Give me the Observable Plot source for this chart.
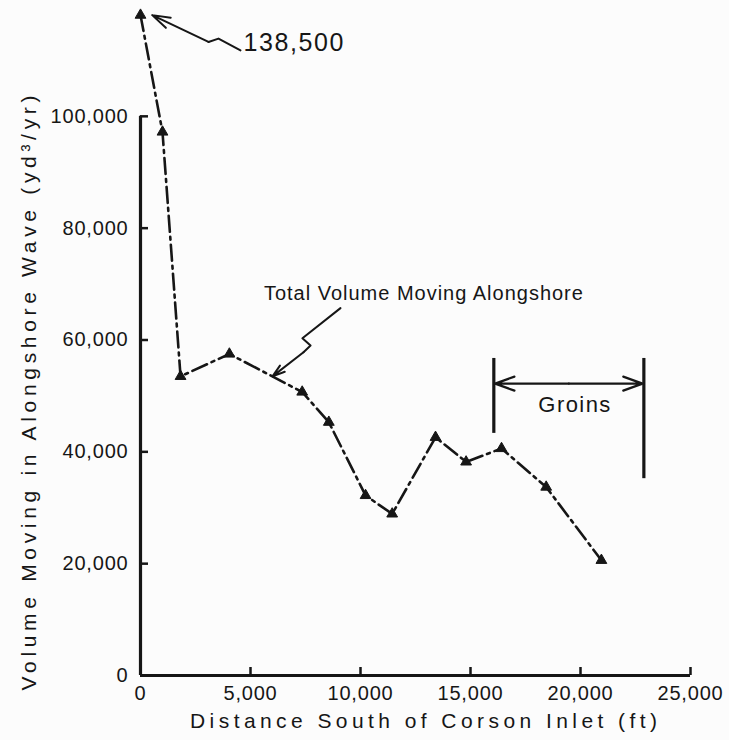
<!DOCTYPE html>
<html>
<head>
<meta charset="utf-8">
<script src="https://cdn.jsdelivr.net/npm/d3@7"></script>
<script src="https://cdn.jsdelivr.net/npm/@observablehq/plot@0.6"></script>
<style>
  html, body { margin: 0; padding: 0; background: #fcfcfc; }
  #chart svg { display: block; }
  g[aria-label="x-axis tick label"] text,
  g[aria-label="y-axis tick label"] text { letter-spacing: 0.8px; }
</style>
</head>
<body>
<div id="chart"></div>
<script>
// ---- data ----
const distanceFt = [0, 1000, 1820, 4040, 7350, 8560, 10230, 11440, 13410, 14800, 16410, 18440, 20950];
const volumeYd3  = [138500, 97200, 53500, 57500, 50700, 45300, 32200, 28900, 42600, 38200, 40600, 33700, 20600];
const offScaleCap = 118100;          // values above this are drawn at the top edge (off-scale)

const xTicks = [0, 5000, 10000, 15000, 20000, 25000];
const xTickLabels = ["0", "5,000", "10,000", "15,000", "20,000", "25,000"];
const yTicks = [0, 20000, 40000, 60000, 80000, 100000];
const yTickLabels = ["0", "20,000", "40,000", "60,000", "80,000", "100,000"];

const xTitle = "Distance South of Corson Inlet (ft)";
const yTitle = "Volume Moving in Alongshore Wave (yd\u00B3/yr)";
const seriesLabel = "Total Volume Moving Alongshore";
const offScaleLabel = "138,500";
const groinsLabel = "Groins";

// groin field extent (ft)
const groinsFromFt = 16060;
const groinsToFt = 22880;

// annotation anchors (data units)
const seriesLabelAt = [12860, 68300];
const seriesLeaderX = [9090, 7360, 7730, 7410];
const seriesLeaderY = [65700, 60300, 59000, 57800];
const seriesLeaderTip = [6000, 53500];

const offScaleLabelAt = [4680, 113100];
const offScaleLeaderX = [4545, 3545, 3090];
const offScaleLeaderY = [111800, 113900, 113300];
const offScaleLeaderTip = [532, 118100];

const groinsLabelAt = [19720, 48300];
const groinsLeftSpan = [43300, 56700];
const groinsRightSpan = [35200, 56700];
const groinsArrowY = 52200;

// ---- build tables ----
const pts = distanceFt.map((x, i) => ({x, v: volumeYd3[i]}));
const seriesLeader = seriesLeaderX.map((x, i) => ({x, y: seriesLeaderY[i]}));
const offLeader = offScaleLeaderX.map((x, i) => ({x, y: offScaleLeaderY[i]}));
const ink = "#161616";
const groinsMid = (groinsFromFt + groinsToFt) / 2;

const chart = Plot.plot({
  width: 729,
  height: 740,
  marginLeft: 140,
  marginRight: 39,
  marginTop: 4,
  marginBottom: 65,
  x: {domain: [xTicks[0], xTicks[xTicks.length - 1]]},
  y: {domain: [0, 120000]},
  style: {background: "#fcfcfc", color: ink, fontFamily: "'Liberation Sans', Arial, sans-serif"},
  marks: [
    Plot.axisX({
      ticks: xTicks,
      tickFormat: (d) => xTickLabels[xTicks.indexOf(d)],
      tickSize: -8, tickPadding: 18, strokeWidth: 2.5,
      fontSize: 20, label: null
    }),
    Plot.axisY({
      ticks: yTicks,
      tickFormat: (d) => yTickLabels[yTicks.indexOf(d)],
      tickSize: -8, tickPadding: 20, strokeWidth: 2.5,
      fontSize: 20, label: null
    }),
    // axis lines
    Plot.ruleY([yTicks[0]], {x1: xTicks[0], x2: xTicks[xTicks.length - 1], stroke: ink, strokeWidth: 3.2}),
    Plot.ruleX([xTicks[0]], {y1: yTicks[0], y2: yTicks[yTicks.length - 1], stroke: ink, strokeWidth: 3.2}),
    // data line (dash-dot)
    Plot.line(pts, {
      x: "x", y: (d) => Math.min(d.v, offScaleCap),
      stroke: ink, strokeWidth: 2.6, strokeDasharray: "16,5,3,5", strokeLinejoin: "round"
    }),
    Plot.dot(pts, {
      x: "x", y: (d) => Math.min(d.v, offScaleCap),
      symbol: "triangle", r: 4, fill: ink, stroke: ink, strokeWidth: 1
    }),
    // groins bracket
    Plot.ruleX([groinsFromFt], {y1: groinsLeftSpan[0], y2: groinsLeftSpan[1], stroke: ink, strokeWidth: 3.2}),
    Plot.ruleX([groinsToFt], {y1: groinsRightSpan[0], y2: groinsRightSpan[1], stroke: ink, strokeWidth: 3.2}),
    Plot.arrow([
      {x1: groinsMid, x2: groinsFromFt + 60},
      {x1: groinsMid, x2: groinsToFt - 60}
    ], {x1: "x1", x2: "x2", y1: () => groinsArrowY, y2: () => groinsArrowY,
        stroke: ink, strokeWidth: 2.2, headLength: 14, headAngle: 40}),
    Plot.text([groinsLabel], {x: () => groinsLabelAt[0], y: () => groinsLabelAt[1], text: (d) => d,
        fontSize: 22, fill: ink}),
    // series label + leader
    Plot.text([seriesLabel], {x: () => seriesLabelAt[0], y: () => seriesLabelAt[1], text: (d) => d,
        fontSize: 20, fill: ink}),
    Plot.line(seriesLeader, {x: "x", y: "y", stroke: ink, strokeWidth: 2}),
    Plot.arrow([0], {
      x1: () => seriesLeaderX[seriesLeaderX.length - 1], y1: () => seriesLeaderY[seriesLeaderY.length - 1],
      x2: () => seriesLeaderTip[0], y2: () => seriesLeaderTip[1],
      stroke: ink, strokeWidth: 2, headLength: 14, headAngle: 35
    }),
    // off-scale label + leader
    Plot.text([offScaleLabel], {x: () => offScaleLabelAt[0], y: () => offScaleLabelAt[1], text: (d) => d,
        fontSize: 25, textAnchor: "start", fill: ink}),
    Plot.line(offLeader, {x: "x", y: "y", stroke: ink, strokeWidth: 2}),
    Plot.arrow([0], {
      x1: () => offScaleLeaderX[offScaleLeaderX.length - 1], y1: () => offScaleLeaderY[offScaleLeaderY.length - 1],
      x2: () => offScaleLeaderTip[0], y2: () => offScaleLeaderTip[1],
      stroke: ink, strokeWidth: 2, headLength: 14, headAngle: 35
    }),
    // axis titles
    Plot.text([xTitle], {frameAnchor: "bottom", dx: 8, dy: 46, lineAnchor: "middle", textAnchor: "middle",
        text: (d) => d, fontSize: 21, fill: ink}),
    Plot.text([yTitle], {frameAnchor: "left", dx: -111, dy: 53, rotate: -90, lineAnchor: "middle", textAnchor: "middle",
        text: (d) => d, fontSize: 21, fill: ink})
  ]
});

// stretch lettering to the wide spacing of the original
const fitWidths = new Map([
  [xTitle, 467], [yTitle, 595], [seriesLabel, 319], [groinsLabel, 72], [offScaleLabel, 100]
]);
d3.select(chart).selectAll("text").each(function () {
  const w = fitWidths.get(this.textContent);
  if (w) { this.setAttribute("textLength", w); this.setAttribute("lengthAdjust", "spacing"); }
});

document.getElementById("chart").appendChild(chart);
</script>
</body>
</html>
